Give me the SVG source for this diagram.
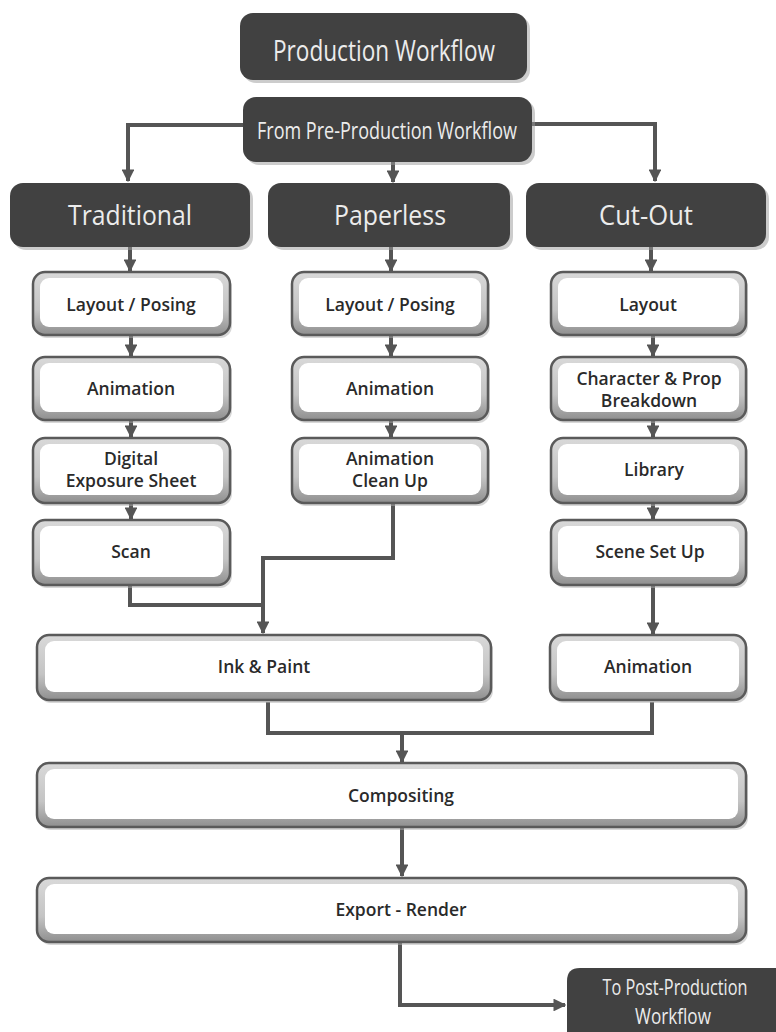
<svg xmlns="http://www.w3.org/2000/svg" width="776" height="1032" viewBox="0 0 776 1032">
<style>
.dk{fill:#414141;}
.dsh{fill:#9a9a9a;opacity:0.5;}
.ob{fill:url(#band);stroke:#5a5a5a;stroke-width:2.5;}
.ib{fill:#ffffff;}
.sh{fill:#b0b0b0;opacity:0.5;}
.ht{font-family:"Open Sans","Liberation Sans",sans-serif;fill:#ececec;text-anchor:middle;}
.bt{font-family:"Open Sans","Liberation Sans",sans-serif;font-weight:600;font-size:17.5px;fill:#2a2a2a;text-anchor:middle;}
.cn{fill:none;stroke:#555555;stroke-width:4;stroke-linejoin:miter;}
</style>
<defs>
<linearGradient id="band" x1="0" y1="0" x2="0" y2="1">
<stop offset="0" stop-color="#d9d9d9"/>
<stop offset="0.6" stop-color="#c4c4c4"/>
<stop offset="1" stop-color="#8f8f8f"/>
</linearGradient>
<marker id="ah" viewBox="0 0 10 10" refX="9" refY="5" markerWidth="3.2" markerHeight="3.2" markerUnits="strokeWidth" orient="auto">
<path d="M0,0 L10,5 L0,10 z" fill="#555555"/>
</marker>
</defs>
<rect x="0" y="0" width="776" height="1032" fill="#ffffff"/>

<g id="connectors">
<path class="cn" d="M243,125 H128 V181" marker-end="url(#ah)"/>
<path class="cn" d="M531,124 H655 V181" marker-end="url(#ah)"/>
<path class="cn" d="M393,162 V182" marker-end="url(#ah)"/>
<path class="cn" d="M130,247 V271" marker-end="url(#ah)"/>
<path class="cn" d="M391,247 V271" marker-end="url(#ah)"/>
<path class="cn" d="M651,247 V271" marker-end="url(#ah)"/>
<path class="cn" d="M131,335 V356" marker-end="url(#ah)"/>
<path class="cn" d="M131,420 V437" marker-end="url(#ah)"/>
<path class="cn" d="M131,503 V519" marker-end="url(#ah)"/>
<path class="cn" d="M391,335 V356" marker-end="url(#ah)"/>
<path class="cn" d="M391,420 V437" marker-end="url(#ah)"/>
<path class="cn" d="M653,335 V356" marker-end="url(#ah)"/>
<path class="cn" d="M653,420 V437" marker-end="url(#ah)"/>
<path class="cn" d="M653,503 V519" marker-end="url(#ah)"/>
<path class="cn" d="M653,585 V634" marker-end="url(#ah)"/>
<path class="cn" d="M130,585 V605 H263"/>
<path class="cn" d="M393,503 V558 H263 V633" marker-end="url(#ah)"/>
<path class="cn" d="M268,702 V733 H652 V702"/>
<path class="cn" d="M402,733 V762" marker-end="url(#ah)"/>
<path class="cn" d="M402,828 V876" marker-end="url(#ah)"/>
<path class="cn" d="M400,943 V1005 H565" marker-end="url(#ah)"/>
</g>

<g id="title">
<rect class="dsh" x="243" y="16" width="287" height="67" rx="13"/>
<rect class="dk" x="240" y="13" width="287" height="67" rx="13"/>
<text class="ht" x="384" y="61" font-size="30" textLength="222" lengthAdjust="spacingAndGlyphs">Production Workflow</text>
</g>
<g id="from-pre">
<rect class="dsh" x="246" y="100" width="289" height="65" rx="13"/>
<rect class="dk" x="243" y="97" width="289" height="65" rx="13"/>
<text class="ht" x="387" y="139" font-size="23" textLength="260" lengthAdjust="spacingAndGlyphs">From Pre-Production Workflow</text>
</g>
<g id="traditional">
<rect class="dsh" x="13" y="186" width="240" height="64" rx="13"/>
<rect class="dk" x="10" y="183" width="240" height="64" rx="13"/>
<text class="ht" x="130" y="225" font-size="27" textLength="124" lengthAdjust="spacingAndGlyphs">Traditional</text>
</g>
<g id="paperless">
<rect class="dsh" x="271" y="186" width="242" height="64" rx="13"/>
<rect class="dk" x="268" y="183" width="242" height="64" rx="13"/>
<text class="ht" x="390" y="225" font-size="27" textLength="112" lengthAdjust="spacingAndGlyphs">Paperless</text>
</g>
<g id="cutout">
<rect class="dsh" x="529" y="186" width="240" height="64" rx="13"/>
<rect class="dk" x="526" y="183" width="240" height="64" rx="13"/>
<text class="ht" x="646" y="225" font-size="27" textLength="94" lengthAdjust="spacingAndGlyphs">Cut-Out</text>
</g>

<g id="t-layout">
<rect class="sh" x="35" y="275" width="197" height="63" rx="12"/>
<rect class="ob" x="33" y="272" width="197" height="63" rx="12"/>
<rect class="ib" x="40" y="278" width="183" height="49" rx="9"/>
<text class="bt" x="131" y="311">Layout / Posing</text>
</g>
<g id="t-animation">
<rect class="sh" x="35" y="360" width="197" height="63" rx="12"/>
<rect class="ob" x="33" y="357" width="197" height="63" rx="12"/>
<rect class="ib" x="40" y="363" width="183" height="49" rx="9"/>
<text class="bt" x="131" y="395">Animation</text>
</g>
<g id="t-digital">
<rect class="sh" x="35" y="441" width="197" height="65" rx="12"/>
<rect class="ob" x="33" y="438" width="197" height="65" rx="12"/>
<rect class="ib" x="40" y="444" width="183" height="51" rx="9"/>
<text class="bt" x="131" y="465">Digital</text>
<text class="bt" x="131" y="487">Exposure Sheet</text>
</g>
<g id="t-scan">
<rect class="sh" x="35" y="523" width="197" height="65" rx="12"/>
<rect class="ob" x="33" y="520" width="197" height="65" rx="12"/>
<rect class="ib" x="40" y="526" width="183" height="51" rx="9"/>
<text class="bt" x="131" y="558">Scan</text>
</g>

<g id="p-layout">
<rect class="sh" x="294" y="275" width="196" height="63" rx="12"/>
<rect class="ob" x="292" y="272" width="196" height="63" rx="12"/>
<rect class="ib" x="299" y="278" width="182" height="49" rx="9"/>
<text class="bt" x="390" y="311">Layout / Posing</text>
</g>
<g id="p-animation">
<rect class="sh" x="294" y="360" width="196" height="63" rx="12"/>
<rect class="ob" x="292" y="357" width="196" height="63" rx="12"/>
<rect class="ib" x="299" y="363" width="182" height="49" rx="9"/>
<text class="bt" x="390" y="395">Animation</text>
</g>
<g id="p-cleanup">
<rect class="sh" x="294" y="441" width="196" height="65" rx="12"/>
<rect class="ob" x="292" y="438" width="196" height="65" rx="12"/>
<rect class="ib" x="299" y="444" width="182" height="51" rx="9"/>
<text class="bt" x="390" y="465">Animation</text>
<text class="bt" x="390" y="487">Clean Up</text>
</g>

<g id="c-layout">
<rect class="sh" x="553" y="275" width="195" height="63" rx="12"/>
<rect class="ob" x="551" y="272" width="195" height="63" rx="12"/>
<rect class="ib" x="558" y="278" width="181" height="49" rx="9"/>
<text class="bt" x="648" y="311">Layout</text>
</g>
<g id="c-breakdown">
<rect class="sh" x="553" y="360" width="195" height="63" rx="12"/>
<rect class="ob" x="551" y="357" width="195" height="63" rx="12"/>
<rect class="ib" x="558" y="363" width="181" height="49" rx="9"/>
<text class="bt" x="649" y="385" font-size="17">Character &amp; Prop</text>
<text class="bt" x="649" y="407" font-size="17">Breakdown</text>
</g>
<g id="c-library">
<rect class="sh" x="553" y="441" width="195" height="65" rx="12"/>
<rect class="ob" x="551" y="438" width="195" height="65" rx="12"/>
<rect class="ib" x="558" y="444" width="181" height="51" rx="9"/>
<text class="bt" x="654" y="476">Library</text>
</g>
<g id="c-scene">
<rect class="sh" x="553" y="523" width="195" height="65" rx="12"/>
<rect class="ob" x="551" y="520" width="195" height="65" rx="12"/>
<rect class="ib" x="558" y="526" width="181" height="51" rx="9"/>
<text class="bt" x="650" y="558">Scene Set Up</text>
</g>
<g id="c-animation">
<rect class="sh" x="552" y="638" width="196" height="65" rx="12"/>
<rect class="ob" x="550" y="635" width="196" height="65" rx="12"/>
<rect class="ib" x="557" y="641" width="182" height="51" rx="9"/>
<text class="bt" x="648" y="673">Animation</text>
</g>

<g id="ink-paint">
<rect class="sh" x="39" y="638" width="454" height="65" rx="12"/>
<rect class="ob" x="37" y="635" width="454" height="65" rx="12"/>
<rect class="ib" x="45" y="641" width="438" height="51" rx="9"/>
<text class="bt" x="264" y="673">Ink &amp; Paint</text>
</g>
<g id="compositing">
<rect class="sh" x="39" y="766" width="709" height="64" rx="12"/>
<rect class="ob" x="37" y="763" width="709" height="64" rx="12"/>
<rect class="ib" x="45" y="769" width="693" height="50" rx="9"/>
<text class="bt" x="401" y="802">Compositing</text>
</g>
<g id="export-render">
<rect class="sh" x="39" y="881" width="709" height="64" rx="12"/>
<rect class="ob" x="37" y="878" width="709" height="64" rx="12"/>
<rect class="ib" x="45" y="884" width="693" height="50" rx="9"/>
<text class="bt" x="401" y="916">Export - Render</text>
</g>
<g id="post-production">
<path class="dk" d="M580,968 H776 V1032 H567 V981 Q567,968 580,968 Z"/>
<g transform="translate(675,995) scale(0.74,1)">
<text class="ht" x="0" y="0" font-size="22">To Post-Production</text>
</g>
<g transform="translate(673,1024) scale(0.78,1)">
<text class="ht" x="0" y="0" font-size="22">Workflow</text>
</g>
</g>
</svg>
